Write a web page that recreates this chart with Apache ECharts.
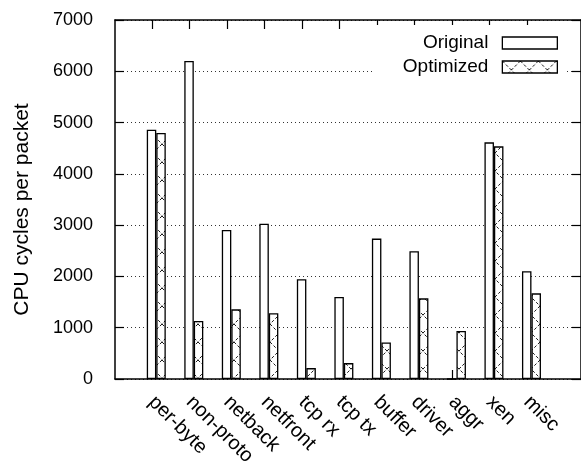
<!DOCTYPE html>
<html>
<head>
<meta charset="utf-8">
<script src="https://cdn.jsdelivr.net/npm/echarts@6/dist/echarts.min.js"></script>
<style>html,body{margin:0;padding:0;background:#fff;}#c{width:581px;height:466px;}</style>
</head>
<body>
<div id="c"></div>
<script>
var categories = ['per-byte','non-proto','netback','netfront','tcp rx','tcp tx','buffer','driver','aggr','xen','misc'];
var original  = [4860, 6200, 2904, 3029, 1947, 1598, 2738, 2491, 0, 4614, 2103];
var optimized = [4796, 1130, 1358, 1281, 213, 310, 711, 1573, 935, 4536, 1670];
var yTicks = [0, 1000, 2000, 3000, 4000, 5000, 6000, 7000];
var seriesNames = ['Original', 'Optimized'];

var FONT = 'Liberation Sans';
var TICK_OFF = 0.12;

function makePattern() {
  var c = document.createElement('canvas');
  c.width = 18; c.height = 18;
  var g = c.getContext('2d');
  g.fillStyle = '#fff';
  g.fillRect(0, 0, 18, 18);
  g.strokeStyle = '#000';
  g.lineWidth = 0.9;
  g.setLineDash([3, 2]);
  g.beginPath();
  g.moveTo(0, 0); g.lineTo(18, 18);
  g.moveTo(18, 0); g.lineTo(0, 18);
  g.stroke();
  return c;
}
var pattern = { image: makePattern(), repeat: 'repeat' };

var tickPos = categories.map(function (_, i) { return i - TICK_OFF; });

var chart = echarts.init(document.getElementById('c'), null, { renderer: 'canvas' });
var axisLine = { show: true, onZero: false, lineStyle: { color: '#000', width: 1.5 } };
chart.setOption({
  animation: false,
  backgroundColor: '#fff',
  textStyle: { fontFamily: FONT },
  grid: { left: 115, right: 0, top: 20, bottom: 87, containLabel: false, outerBoundsMode: 'none' },
  legend: {
    orient: 'vertical',
    align: 'right',
    right: 15,
    top: 25,
    padding: [8, 8, 7, 28],
    backgroundColor: '#fff',
    itemWidth: 55,
    itemHeight: 12,
    itemGap: 4,
    textStyle: { fontFamily: FONT, fontSize: 19, lineHeight: 20, color: '#000', padding: [0, 9, 0, 0] },
    data: [
      { name: seriesNames[0], icon: 'rect', itemStyle: { color: '#fff', borderColor: '#000', borderWidth: 1.3 } },
      { name: seriesNames[1], icon: 'rect', itemStyle: { color: pattern, borderColor: '#000', borderWidth: 1.3 } }
    ]
  },
  xAxis: [{
    type: 'value',
    position: 'bottom',
    min: -1.1, max: 11.32,
    axisLine: axisLine,
    splitLine: { show: false },
    axisTick: { show: true, inside: true, length: 9, customValues: tickPos, lineStyle: { color: '#000', width: 1.2 } },
    axisLabel: {
      show: true, customValues: tickPos, rotate: -45, margin: 20,
      fontFamily: FONT, fontSize: 20, color: '#000',
      formatter: function (v) { return categories[Math.round(v + TICK_OFF)]; }
    }
  }, {
    type: 'value',
    position: 'top',
    min: -1.1, max: 11.32,
    axisLine: axisLine,
    splitLine: { show: false },
    axisTick: { show: true, inside: true, length: 9, customValues: tickPos, lineStyle: { color: '#000', width: 1.2 } },
    axisLabel: { show: false }
  }],
  yAxis: [{
    type: 'value',
    position: 'left',
    min: yTicks[0], max: yTicks[yTicks.length - 1], interval: 1000,
    name: 'CPU cycles per packet',
    nameLocation: 'middle',
    nameGap: 82,
    nameTextStyle: { fontFamily: FONT, fontSize: 21, color: '#000', padding: [0, 20, 0, 0] },
    axisLine: axisLine,
    axisTick: { show: true, inside: true, length: 9, lineStyle: { color: '#000', width: 1.2 } },
    axisLabel: { margin: 22, fontFamily: FONT, fontSize: 18, color: '#000', formatter: function (v) { return String(v); } },
    splitLine: { show: true, lineStyle: { color: '#333', width: 1, type: [1, 3] } }
  }, {
    type: 'value',
    position: 'right',
    min: yTicks[0], max: yTicks[yTicks.length - 1], interval: 1000,
    axisLine: axisLine,
    axisTick: { show: true, inside: true, length: 9, lineStyle: { color: '#000', width: 1.2 } },
    axisLabel: { show: false },
    splitLine: { show: false }
  }],
  series: [{
    name: seriesNames[0],
    type: 'bar',
    barWidth: 9.5,
    barGap: '0%',
    itemStyle: { color: '#fff', borderColor: '#000', borderWidth: 1.3 },
    data: original.map(function (v, i) { return [i, v]; })
  }, {
    name: seriesNames[1],
    type: 'bar',
    barWidth: 9.5,
    barGap: '0%',
    itemStyle: { color: pattern, borderColor: '#000', borderWidth: 1.3 },
    data: optimized.map(function (v, i) { return [i, v]; })
  }]
});
</script>
</body>
</html>
